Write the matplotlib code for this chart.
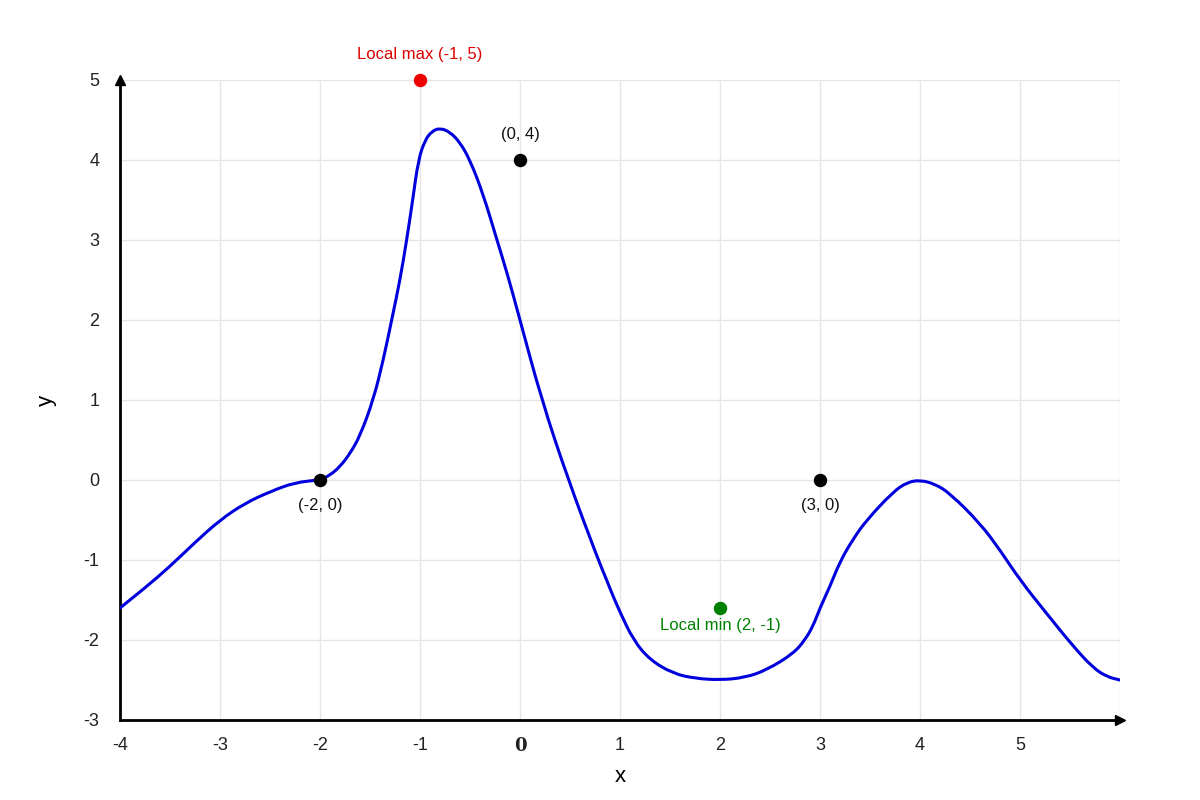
import matplotlib.pyplot as plt
from matplotlib.path import Path
from matplotlib.patches import PathPatch

plt.rcParams['font.family'] = ['Liberation Sans', 'DejaVu Sans']
plt.rcParams['axes.unicode_minus'] = False

# curve
curve_x = [-4.0, -3.75, -3.5, -3.25, -3.0, -2.75, -2.5, -2.25, -2.0, -1.9, -1.8, -1.7,
           -1.6, -1.467, -1.367, -1.283, -1.2, -1.133, -1.073, -1.017, -0.95, -0.88, -0.8,
           -0.7, -0.6, -0.5, -0.37, -0.23, -0.12, 0.0, 0.217, 0.483, 0.783, 0.867, 0.93,
           1.0, 1.133, 1.3, 1.533, 1.75, 2.0, 2.25, 2.467, 2.733, 2.85, 2.933, 3.0,
           3.1, 3.2, 3.33, 3.467, 3.733, 3.87, 4.0, 4.15, 4.3, 4.6, 4.8, 5.0, 5.267, 5.533,
           5.733, 5.87, 6.0]
curve_y = [-1.6, -1.35, -1.08, -0.78, -0.5, -0.29, -0.146, -0.03, 0.0, 0.06, 0.167, 0.33,
           0.55, 1.0, 1.5, 2.0, 2.5, 3.0, 3.5, 4.0, 4.25, 4.36, 4.40,
           4.35, 4.22, 4.0, 3.58, 3.0, 2.55, 2.0, 1.0, 0.0, -1.0, -1.25, -1.45,
           -1.65, -2.0, -2.25, -2.42, -2.48, -2.5, -2.47, -2.375, -2.17, -2.0, -1.82, -1.6,
           -1.33, -1.02, -0.74, -0.5, -0.146, -0.03, 0.0, -0.05, -0.167, -0.54, -0.875, -1.25, -1.67, -2.08,
           -2.35, -2.46, -2.5]

pt_x = [-2, 0, 3]
pt_y = [0, 4, 0]
pt_labels = ["(-2, 0)", "(0, 4)", "(3, 0)"]
pt_above = [False, True, False]

max_pt = (-1, 5)
max_label = "Local max (-1, 5)"
min_pt = (2, -1.6)
min_label = "Local min (2, -1)"

x_ticks = [-4, -3, -2, -1, 0, 1, 2, 3, 4, 5]
y_ticks = [-3, -2, -1, 0, 1, 2, 3, 4, 5]

fig = plt.figure(figsize=(12, 8), dpi=100)
ax = fig.add_axes([0.1, 0.1, 0.8333, 0.8])
ax.set_xlim(-4, 6)
ax.set_ylim(-3, 5)

ax.set_xticks(range(-4, 7))
ax.set_yticks(y_ticks)
ax.grid(True, color='#e6e6e6', linewidth=1)
ax.set_axisbelow(True)
ax.set_xticklabels([str(t) if t in x_ticks else "" for t in range(-4, 7)])
ax.set_yticklabels([str(t) for t in y_ticks])
ax.tick_params(length=0, labelsize=13, colors='#222222', pad=12)
ax.tick_params(axis='y', pad=15)
for lbl in ax.get_xticklabels():
    if lbl.get_text() == "0":
        lbl.set_fontfamily('DejaVu Serif')
        lbl.set_fontweight('bold')

for s in ['top', 'right']:
    ax.spines[s].set_visible(False)
for s in ['left', 'bottom']:
    ax.spines[s].set_linewidth(2)
    ax.spines[s].set_color('black')

# arrowheads
ax.plot(6, -3, marker='>', color='black', markersize=7, clip_on=False, zorder=5)
ax.plot(-4, 5, marker='^', color='black', markersize=7, clip_on=False, zorder=5)

# smooth line through the read points (quadratic segments between midpoints)
pts = list(zip(curve_x, curve_y))
verts = [pts[0]]
codes = [Path.MOVETO]
for i in range(1, len(pts) - 1):
    mid = ((pts[i][0] + pts[i + 1][0]) / 2, (pts[i][1] + pts[i + 1][1]) / 2)
    verts += [pts[i], mid]
    codes += [Path.CURVE3, Path.CURVE3]
verts.append(pts[-1])
codes.append(Path.LINETO)
ax.add_patch(PathPatch(Path(verts, codes), facecolor='none', edgecolor='#0000dd',
                       linewidth=2.2, zorder=3, capstyle='round', joinstyle='round'))

ax.scatter(pt_x, pt_y, s=75, color='black', zorder=4, clip_on=False)
for x, y, t, above in zip(pt_x, pt_y, pt_labels, pt_above):
    ax.annotate(t, (x, y), xytext=(0, 13 if above else -13), textcoords='offset points',
                ha='center', va='bottom' if above else 'top', fontsize=12, color='#111111')

ax.scatter([max_pt[0]], [max_pt[1]], s=75, color='#ee0000', zorder=4, clip_on=False)
ax.annotate(max_label, max_pt, xytext=(0, 13), textcoords='offset points',
            ha='center', va='bottom', fontsize=12, color='#dd0000')
ax.scatter([min_pt[0]], [min_pt[1]], s=75, color='#008000', zorder=4, clip_on=False)
ax.annotate(min_label, min_pt, xytext=(0, -7), textcoords='offset points',
            ha='center', va='top', fontsize=12, color='#008000')

ax.set_xlabel("x", fontsize=16, labelpad=8)
ax.set_ylabel("y", fontsize=16)
ax.yaxis.set_label_coords(-0.063, 0.5)

fig.savefig("out.png", dpi=100)
